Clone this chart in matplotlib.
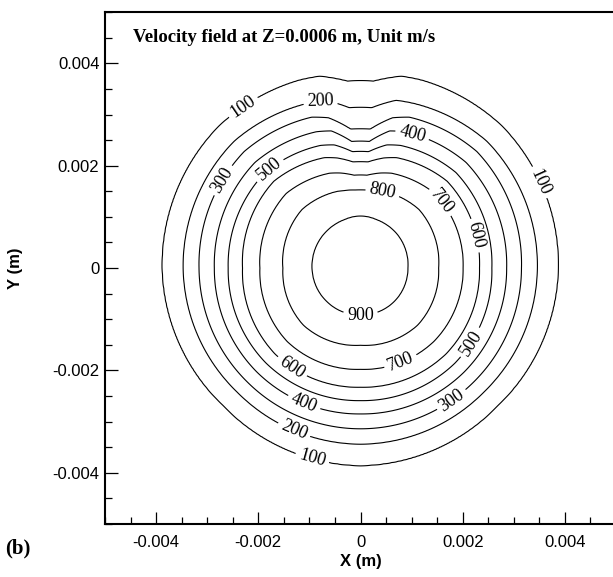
import numpy as np
import matplotlib.pyplot as plt
from matplotlib.ticker import MultipleLocator, FuncFormatter

plt.rcParams['axes.unicode_minus'] = False
plt.rcParams['font.family'] = 'Liberation Sans'

levels = [100, 200, 300, 400, 500, 600, 700, 800, 900]
center_value = 1000
angles_deg = [0, 45, 72, 78, 86, 94, 102, 108, 135, 180, 225, 270, 315]
# contour radius in mm: one row per level, one column per angle
radii_mm = [
    # 0    45    72    78    86    94   102   108   135   180   225   270   315
    [3.87, 3.92, 3.86, 3.83, 3.66, 3.66, 3.83, 3.86, 3.92, 3.88, 3.80, 3.86, 3.80],  # 100
    [3.46, 3.50, 3.38, 3.35, 3.14, 3.14, 3.35, 3.38, 3.50, 3.47, 3.42, 3.44, 3.42],  # 200
    [3.15, 3.22, 3.10, 3.00, 2.72, 2.72, 3.00, 3.10, 3.22, 3.16, 3.14, 3.14, 3.14],  # 300
    [2.86, 2.92, 2.80, 2.74, 2.48, 2.48, 2.74, 2.80, 2.92, 2.86, 2.87, 2.85, 2.87],  # 400
    [2.57, 2.64, 2.52, 2.46, 2.28, 2.28, 2.46, 2.52, 2.64, 2.59, 2.62, 2.59, 2.62],  # 500
    [2.33, 2.40, 2.27, 2.20, 2.08, 2.08, 2.20, 2.27, 2.40, 2.31, 2.37, 2.33, 2.37],  # 600
    [2.01, 2.06, 1.95, 1.90, 1.82, 1.82, 1.90, 1.95, 2.06, 1.97, 2.03, 1.98, 2.03],  # 700
    [1.53, 1.62, 1.57, 1.55, 1.53, 1.53, 1.55, 1.57, 1.62, 1.52, 1.58, 1.51, 1.58],  # 800
    [0.93, 0.98, 1.00, 1.01, 1.02, 1.02, 1.01, 1.00, 0.98, 0.95, 0.93, 0.92, 0.93],  # 900
]

# where the labels sit on the lines (m)
label_pos = [(-0.00229, 0.00313), (0.00346, 0.00166), (-0.00095, -0.00374),
             (-0.00078, 0.00326), (-0.00131, -0.00319),
             (-0.00265, 0.00169), (0.00180, -0.00260),
             (0.00101, 0.00260), (-0.00111, -0.00264),
             (-0.00176, 0.00189), (0.00216, -0.00146),
             (0.00219, 0.00062), (-0.00131, -0.00189),
             (0.00150, 0.00124), (0.00078, -0.00182),
             (0.00043, 0.00146),
             (0.0, -0.00088)]

# build the field from the read radii
x = np.linspace(-0.005, 0.005, 401)
X, Y = np.meshgrid(x, x)
R = np.hypot(X, Y) * 1000
T = np.degrees(np.arctan2(Y, X)) % 360
Rk = np.array([np.interp(T, angles_deg, row, period=360) for row in radii_mm])
xp = np.concatenate([np.zeros((1,) + R.shape), Rk[::-1], Rk[:1] + 1.0])
fp = [center_value] + levels[::-1] + [0]
V = np.zeros_like(R)
for i in range(len(fp) - 1):
    m = (R >= xp[i]) & (R < xp[i + 1])
    V[m] = fp[i] + (fp[i + 1] - fp[i]) * (R[m] - xp[i][m]) / (xp[i + 1][m] - xp[i][m])

fig = plt.figure(figsize=(6.13, 5.77), dpi=100)
ax = fig.add_axes([0.1713, 0.0919, 0.8336, 0.887])

cs = ax.contour(X, Y, V, levels=levels, colors='k', linewidths=0.8)
with plt.rc_context({'font.family': 'Liberation Serif'}):
    labels = ax.clabel(cs, fmt='%d', fontsize=13, manual=label_pos, inline=True, inline_spacing=4)
for t in labels:
    t.set_fontfamily('Liberation Serif')

ax.set_xlim(-0.005, 0.005)
ax.set_ylim(-0.005, 0.005)
ax.xaxis.set_major_locator(MultipleLocator(0.002))
ax.yaxis.set_major_locator(MultipleLocator(0.002))
ax.xaxis.set_minor_locator(MultipleLocator(0.0005))
ax.yaxis.set_minor_locator(MultipleLocator(0.0005))
fmt = FuncFormatter(lambda v, p: '0' if abs(v) < 1e-12 else f'{v:g}')
ax.xaxis.set_major_formatter(fmt)
ax.yaxis.set_major_formatter(fmt)
ax.tick_params(which='major', direction='in', length=9, width=0.9, labelsize=12)
ax.tick_params(which='minor', direction='in', length=5, width=0.9)
ax.tick_params(axis='x', which='major', pad=8)
ax.tick_params(axis='y', which='major', pad=4)
for s in ax.spines.values():
    s.set_linewidth(1.5)

ax.set_xlabel('X (m)', fontsize=12, fontweight='bold', labelpad=3)
ax.set_ylabel('Y (m)', fontsize=12, fontweight='bold', labelpad=21)

ax.text(0.055, 0.951, 'Velocity field at Z=0.0006 m, Unit m/s', transform=ax.transAxes,
        family='Liberation Serif', fontweight='bold', fontsize=13.5, va='center', ha='left')
fig.text(0.008, 0.05, '(b)', family='Liberation Serif', fontweight='bold', fontsize=15,
         va='center', ha='left')

fig.savefig('out.png', dpi=100)
